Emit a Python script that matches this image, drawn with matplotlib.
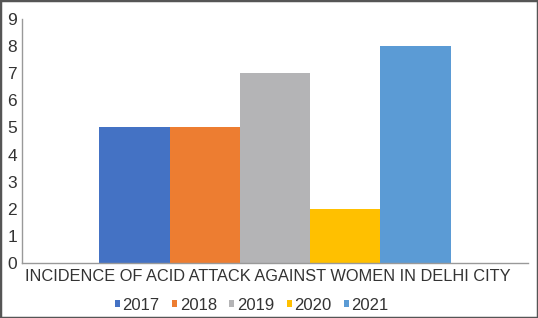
import matplotlib
matplotlib.use('Agg')
import matplotlib.pyplot as plt
from matplotlib.patches import Rectangle

years = ['2017', '2018', '2019', '2020', '2021']
cases = [5, 5, 7, 2, 8]
colors = ['#4472C4', '#ED7D31', '#B4B4B6', '#FFC000', '#5B9BD5']
yticks = list(range(0, 10))

plt.rcParams['font.family'] = ['Liberation Sans', 'DejaVu Sans']

fig = plt.figure(figsize=(5.38, 3.18), dpi=100)
ax = fig.add_axes([0.041, 0.173, 0.94, 0.767])

positions = range(len(years))
bars = ax.bar(positions, cases, width=1.0, color=colors, label=years)

ax.set_xlim(-1.6, 5.6)
ax.set_ylim(0, 9)
ax.set_yticks(yticks)
ax.set_xticks([])
ax.tick_params(axis='y', length=0, labelsize=12.5, pad=3.5, colors='#333333')
for side in ['top', 'right']:
    ax.spines[side].set_visible(False)
for side in ['left', 'bottom']:
    ax.spines[side].set_color('#999999')
    ax.spines[side].set_linewidth(1)

ax.set_xlabel('INCIDENCE OF ACID ATTACK AGAINST WOMEN IN DELHI CITY',
              fontsize=11.8, color='#333333', labelpad=4)
ax.xaxis.set_label_coords(0.485, -0.025, transform=ax.transAxes)
ax.xaxis.label.set_va('top')

fig.legend(bars, years, loc='lower center', bbox_to_anchor=(0.468, -0.03), ncol=5,
           frameon=False, fontsize=12, handlelength=0.3, handleheight=0.3,
           handletextpad=0.15, columnspacing=0.75, labelcolor='#333333')

fig.patches.append(Rectangle((0, 0), 1, 1, transform=fig.transFigure,
                             fill=False, edgecolor='#555555', linewidth=2.5))

fig.savefig('out.png', dpi=100)
